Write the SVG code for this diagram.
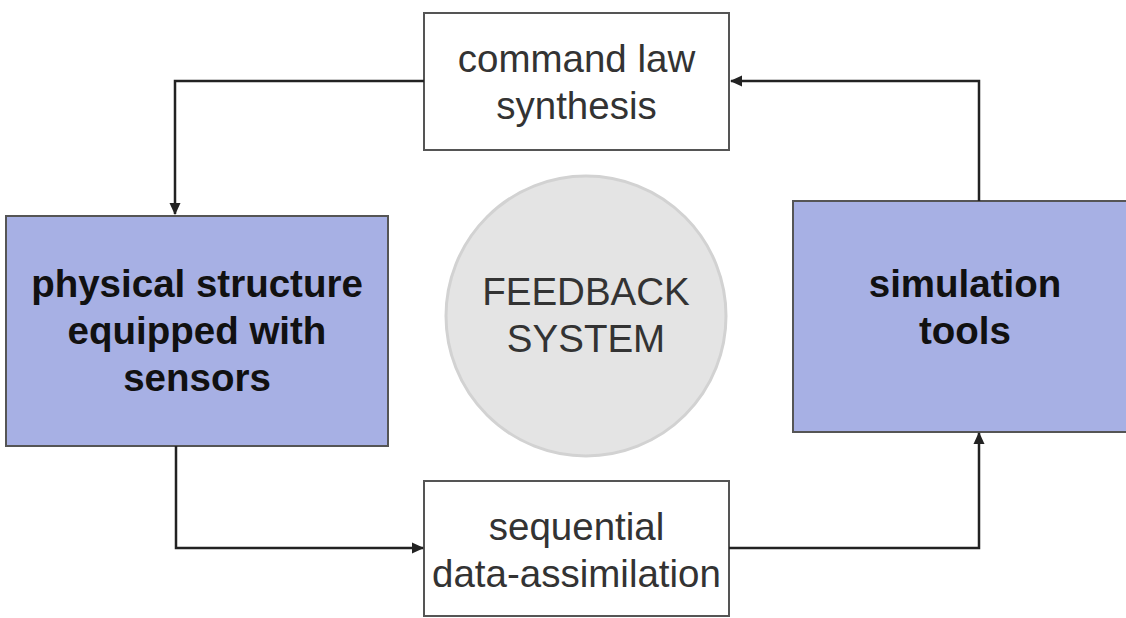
<svg xmlns="http://www.w3.org/2000/svg" width="1126" height="618" viewBox="0 0 1126 618">
<style>
.box{fill:#ffffff;stroke:#555;stroke-width:2}
.blue{fill:#a7b0e4;stroke:#555;stroke-width:2}
.t{font-family:"Liberation Sans",Arial,sans-serif;font-size:38.5px;fill:#333;text-anchor:middle}
.b{font-family:"Liberation Sans",Arial,sans-serif;font-size:38.5px;font-weight:bold;fill:#111;text-anchor:middle}
.c{fill:none;stroke:#222;stroke-width:2.5}
</style>
<defs>
<marker id="ah" markerWidth="12" markerHeight="12" refX="11" refY="6" orient="auto" markerUnits="userSpaceOnUse">
<path d="M0,0.5 L12,6 L0,11.5 z" fill="#222"/>
</marker>
</defs>
<g id="feedback">
<circle cx="586" cy="316" r="140" fill="#e4e4e4" stroke="#d2d2d2" stroke-width="3"/>
<text class="t" x="586" y="305" fill="#444">FEEDBACK</text>
<text class="t" x="586" y="352" fill="#444">SYSTEM</text>
</g>
<g id="command">
<rect class="box" x="424" y="13" width="305" height="137"/>
<text class="t" x="576.5" y="72">command law</text>
<text class="t" x="576.5" y="119">synthesis</text>
</g>
<g id="physical">
<rect class="blue" x="6" y="216" width="382" height="230"/>
<text class="b" x="197" y="297">physical structure</text>
<text class="b" x="197" y="344">equipped with</text>
<text class="b" x="197" y="391">sensors</text>
</g>
<g id="simulation">
<rect class="blue" x="793" y="201" width="340" height="231"/>
<text class="b" x="965" y="297">simulation</text>
<text class="b" x="965" y="344">tools</text>
</g>
<g id="assimilation">
<rect class="box" x="424" y="481" width="305" height="135"/>
<text class="t" x="576.5" y="540">sequential</text>
<text class="t" x="576.5" y="587">data-assimilation</text>
</g>
<g id="connectors">
<path class="c" d="M424,81 H175 V214" marker-end="url(#ah)"/>
<path class="c" d="M979,201 V81 H731" marker-end="url(#ah)"/>
<path class="c" d="M176,446 V548 H423" marker-end="url(#ah)"/>
<path class="c" d="M729,548 H979 V433" marker-end="url(#ah)"/>
</g>
</svg>
